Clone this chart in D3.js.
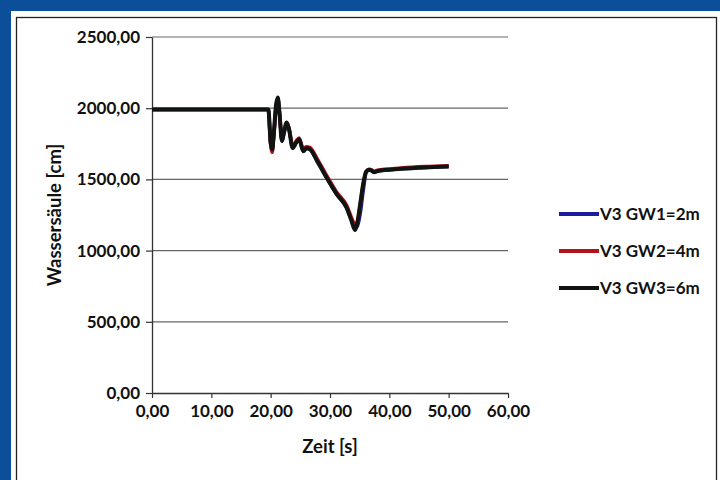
<!DOCTYPE html>
<html>
<head>
<meta charset="utf-8">
<script src="https://cdn.jsdelivr.net/npm/d3@7"></script>
<style>
  body { margin: 0; background: #0b4e9a; }
  #chart { width: 720px; height: 480px; }
  text { font-family: Lato, "Open Sans", sans-serif; font-weight: bold; fill: #111; }
</style>
</head>
<body>
<div id="chart"></div>
<script>
// time axis [s], shared by all three series
const zeit = [0, 19.6, 20.0, 20.25, 20.5, 20.9, 21.2, 21.5, 21.9, 22.2, 22.7, 23.1, 23.7, 24.3, 24.8,
  25.5, 26.0, 26.6, 27.8, 29.4, 31.1, 32.8, 33.6, 34.2, 34.6, 35.1, 35.6, 36.1, 36.6, 37.0, 37.4,
  38.0, 42.0, 46.0, 50.0];

// Wassersäule [cm]
const gw1 = [1990, 1990, 1750, 1700, 1800, 2010, 2070, 1960, 1770, 1815, 1895, 1850, 1725, 1760, 1780,
  1700, 1720, 1712, 1632, 1515, 1398, 1300, 1215, 1160, 1170, 1260, 1420, 1550, 1568, 1562, 1550,
  1558, 1574, 1584, 1590];
const gw2 = [1990, 1990, 1740, 1690, 1790, 2000, 2065, 1970, 1780, 1825, 1900, 1860, 1735, 1770, 1790,
  1712, 1730, 1725, 1648, 1530, 1412, 1318, 1235, 1185, 1200, 1320, 1465, 1555, 1572, 1568, 1556,
  1564, 1580, 1590, 1596];
const gw3 = [1990, 1990, 1760, 1710, 1805, 2020, 2075, 1955, 1770, 1820, 1900, 1850, 1720, 1758, 1782,
  1698, 1718, 1712, 1632, 1515, 1398, 1302, 1212, 1145, 1195, 1330, 1470, 1555, 1568, 1562, 1550,
  1558, 1574, 1584, 1590];

const yTicks = [0, 500, 1000, 1500, 2000, 2500];
const xTicks = [0, 10, 20, 30, 40, 50, 60];

const series = [
  { name: 'V3 GW1=2m', values: gw1, color: '#1c1c9e', width: 3.5 },
  { name: 'V3 GW2=4m', values: gw2, color: '#b3121a', width: 3.5 },
  { name: 'V3 GW3=6m', values: gw3, color: '#101410', width: 4 }
];

class Chart {

  constructor(opts) {
    this.element = opts.element;
    this.data = opts.data;
    this.draw();
  }

  draw() {
    this.width = 720;
    this.height = 480;
    this.margin = { top: 37, bottom: 87, left: 152, right: 212 };

    this.element.innerHTML = '';
    const svg = d3.select(this.element).append('svg')
      .attr('width', this.width)
      .attr('height', this.height);

    // white sheet with a thin frame, on the slide background
    svg.append('rect')
      .attr('x', 11).attr('y', 11)
      .attr('width', 709).attr('height', 469)
      .attr('fill', '#fff');
    svg.append('rect')
      .attr('x', 16.5).attr('y', 17.5)
      .attr('width', 700).attr('height', 470)
      .attr('fill', 'none')
      .attr('stroke', '#222')
      .attr('stroke-width', 1.3);

    this.svg = svg;
    this.plot = svg.append('g')
      .attr('transform', `translate(${this.margin.left}, ${this.margin.top})`);

    this.createScales();
    this.addAxes();
    this.addLines();
    this.addLegend();
  }

  createScales() {
    this.innerW = this.width - this.margin.left - this.margin.right;
    this.innerH = this.height - this.margin.top - this.margin.bottom;

    this.xScale = d3.scaleLinear()
      .range([0, this.innerW])
      .domain([0, 60]);

    this.yScale = d3.scaleLinear()
      .range([this.innerH, 0])
      .domain([0, 2500]);
  }

  addAxes() {
    const fmt = d => d3.format('.2f')(d).replace('.', ',');

    // horizontal gridlines
    this.plot.append('g')
      .selectAll('line')
      .data(yTicks.filter(d => d > 0)).enter()
      .append('line')
      .attr('x1', 0).attr('x2', this.innerW)
      .attr('y1', d => this.yScale(d)).attr('y2', d => this.yScale(d))
      .attr('stroke', '#666')
      .attr('stroke-width', 1.2);

    const xAxis = d3.axisBottom(this.xScale)
      .tickValues(xTicks)
      .tickFormat(fmt)
      .tickSize(5)
      .tickSizeOuter(0)
      .tickPadding(7);
    const yAxis = d3.axisLeft(this.yScale)
      .tickValues(yTicks)
      .tickFormat(fmt)
      .tickSize(6)
      .tickSizeOuter(0)
      .tickPadding(6);

    const gx = this.plot.append('g')
      .attr('class', 'x_axis')
      .attr('transform', `translate(0, ${this.innerH})`)
      .call(xAxis);

    const gy = this.plot.append('g')
      .attr('class', 'y_axis')
      .call(yAxis);

    [gx, gy].forEach(g => {
      g.select('.domain').attr('stroke', '#333').attr('stroke-width', 1.3);
      g.selectAll('.tick line').attr('stroke', '#333').attr('stroke-width', 1.2);
      g.selectAll('.tick text')
        .attr('font-size', 17)
        .attr('font-family', 'Lato, sans-serif')
        .attr('font-weight', 'bold')
        .attr('fill', '#111');
    });

    this.plot.append('text')
      .attr('x', this.innerW / 2)
      .attr('y', this.innerH + 60)
      .attr('text-anchor', 'middle')
      .attr('font-size', 18.5)
      .text('Zeit [s]');

    this.svg.append('text')
      .attr('transform', `translate(61, ${this.margin.top + this.innerH / 2}) rotate(-90)`)
      .attr('text-anchor', 'middle')
      .attr('font-size', 18.5)
      .text('Wassersäule [cm]');
  }

  addLines() {
    const line = d3.line()
      .x((d, i) => this.xScale(zeit[i]))
      .y(d => this.yScale(d))
      .curve(d3.curveMonotoneX);

    this.plot.selectAll('path.serie')
      .data(this.data).enter()
      .append('path')
      .attr('class', 'serie')
      .attr('d', d => line(d.values))
      .attr('fill', 'none')
      .attr('stroke', d => d.color)
      .attr('stroke-width', d => d.width)
      .attr('stroke-linejoin', 'round');
  }

  addLegend() {
    const legend = this.svg.append('g')
      .attr('transform', 'translate(559, 214)');

    const rows = legend.selectAll('g')
      .data(this.data).enter()
      .append('g')
      .attr('transform', (d, i) => `translate(0, ${i * 37})`);

    rows.append('line')
      .attr('x1', 0).attr('x2', 40)
      .attr('stroke', d => d.color)
      .attr('stroke-width', 4);

    rows.append('text')
      .attr('x', 41)
      .attr('dy', '0.35em')
      .attr('font-size', 17)
      .text(d => d.name);
  }

}

new Chart({ element: document.getElementById('chart'), data: series });
</script>
</body>
</html>
